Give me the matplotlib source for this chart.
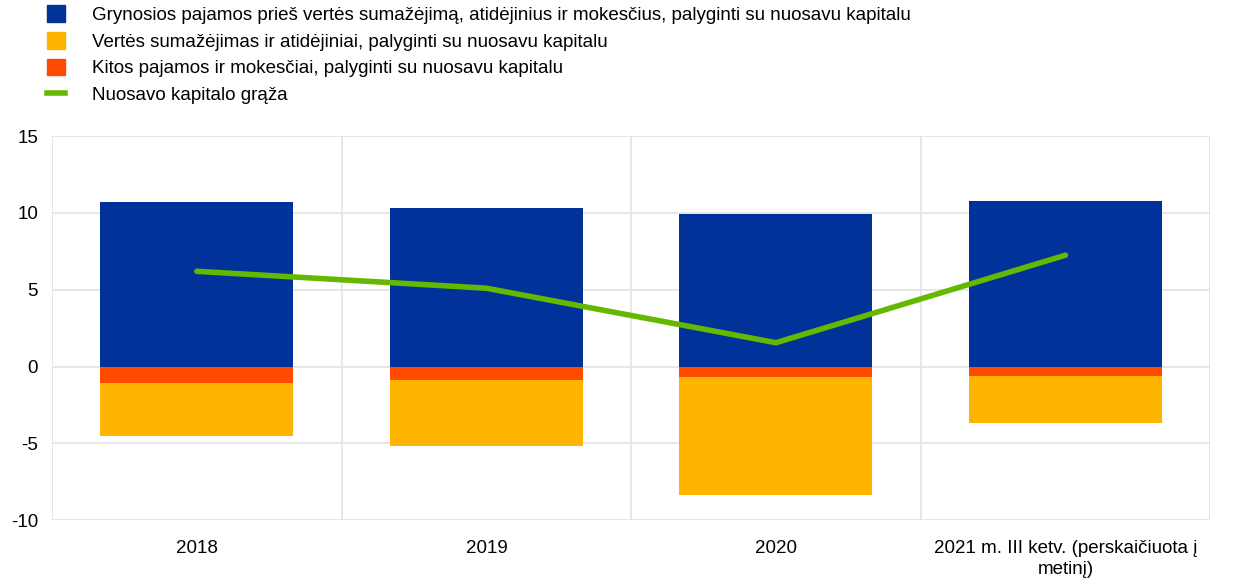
import matplotlib
matplotlib.use("Agg")
import matplotlib.pyplot as plt
from matplotlib.patches import Patch
from matplotlib.lines import Line2D
import numpy as np

plt.rcParams['font.family'] = ['Liberation Sans', 'DejaVu Sans']
plt.rcParams['axes.unicode_minus'] = False

categories = ["2018", "2019", "2020", "2021 m. III ketv. (perskaičiuota į\nmetinį)"]
net_income = [10.7, 10.3, 9.9, 10.8]
other_income_taxes = [-1.05, -0.9, -0.65, -0.6]
impairments = [-3.45, -4.25, -7.7, -3.1]
roe = [6.2, 5.1, 1.55, 7.25]

labels = [
    "Grynosios pajamos prieš vertės sumažėjimą, atidėjinius ir mokesčius, palyginti su nuosavu kapitalu",
    "Vertės sumažėjimas ir atidėjiniai, palyginti su nuosavu kapitalu",
    "Kitos pajamos ir mokesčiai, palyginti su nuosavu kapitalu",
    "Nuosavo kapitalo grąža",
]
c_blue = "#003299"
c_yellow = "#FFB400"
c_orange = "#FF4B00"
c_green = "#65B800"

fs = 13.5
fig = plt.figure(figsize=(12.4, 5.87), dpi=100)
ax = fig.add_axes([0.042, 0.114, 0.934, 0.654])

x = np.arange(len(categories))
w = 0.667
ax.bar(x, net_income, w, color=c_blue, zorder=3)
ax.bar(x, other_income_taxes, w, color=c_orange, zorder=3)
ax.bar(x, impairments, w, bottom=other_income_taxes, color=c_yellow, zorder=3)
ax.plot(x, roe, color=c_green, lw=4, solid_capstyle='round', zorder=4)

ax.set_xlim(-0.5, len(categories) - 0.5)
ax.set_ylim(-10, 15)
ax.set_yticks([-10, -5, 0, 5, 10, 15])
ax.set_xticks(x)
ax.set_xticklabels(categories, fontsize=fs)
for t in ax.get_xticklabels():
    t.set_linespacing(1.35)
ax.set_xticks(np.arange(-0.5, len(categories), 1.0), minor=True)
ax.tick_params(axis='both', which='both', length=0, labelsize=fs)
ax.tick_params(axis='x', pad=14)
ax.tick_params(axis='y', pad=10)
ax.grid(axis='y', color='#e3e3e3', lw=1.2, zorder=0)
ax.grid(axis='x', which='minor', color='#e3e3e3', lw=1.2, zorder=0)
ax.grid(axis='x', which='major', visible=False)
for s in ax.spines.values():
    s.set_visible(False)

handles = [
    Patch(color=c_blue),
    Patch(color=c_yellow),
    Patch(color=c_orange),
    Line2D([0], [0], color=c_green, lw=4),
]
fig.legend(handles, labels, loc='upper left', bbox_to_anchor=(0.024, 1.02),
           frameon=False, fontsize=fs, handlelength=1.0, handleheight=1.0,
           handletextpad=1.4, labelspacing=0.42)

fig.savefig("out.png", dpi=100)
